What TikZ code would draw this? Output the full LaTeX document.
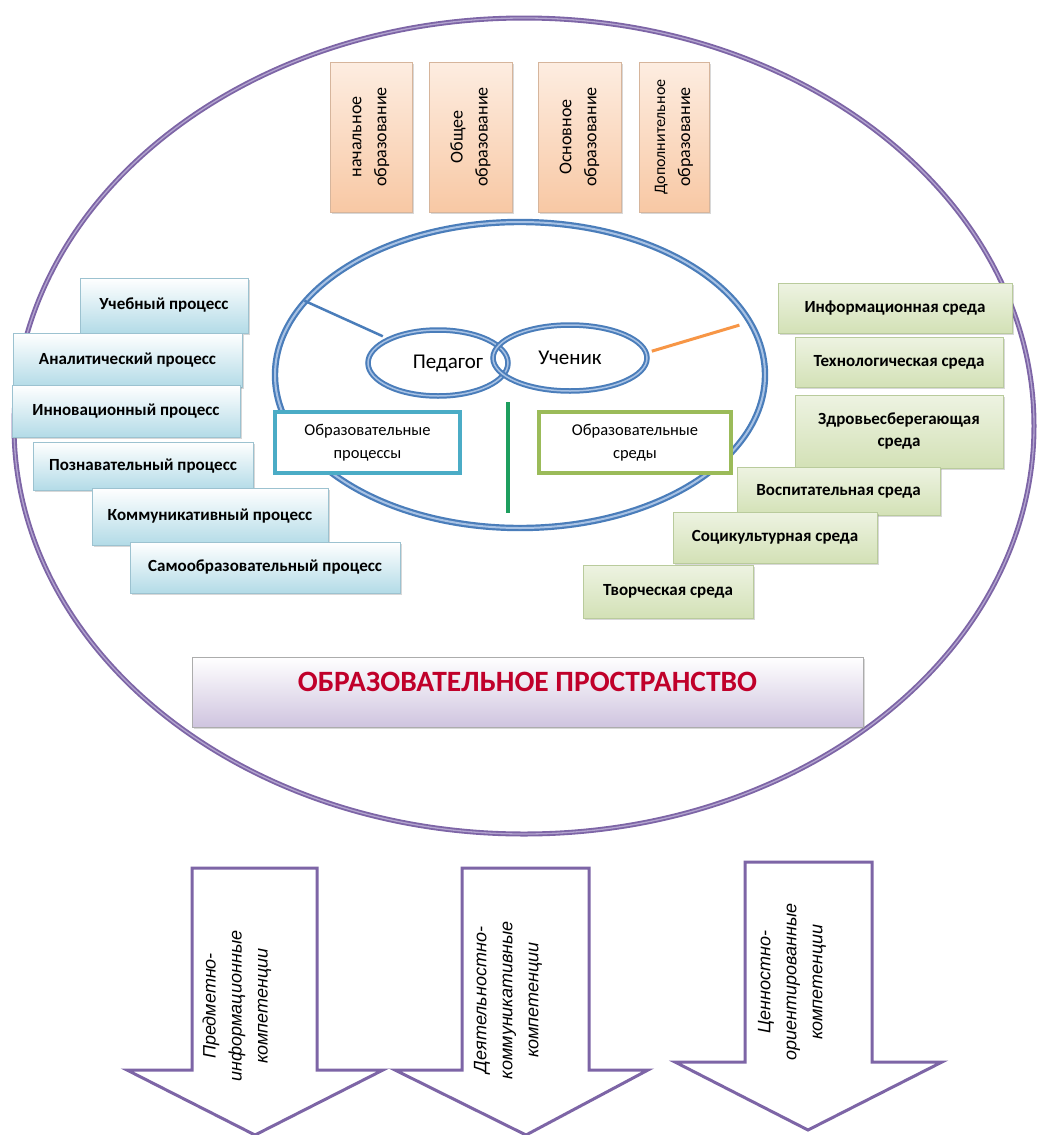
\documentclass[tikz,border=0pt]{standalone}
\usepackage{fontspec}
\setmainfont{Carlito}
\newfontfamily\arrowfont{Liberation Sans}
\usetikzlibrary{positioning}
\usetikzlibrary{shapes.geometric}
\usetikzlibrary{shadows}
\usetikzlibrary{calc}

\definecolor{spacepurple}{HTML}{7D65A6}
\definecolor{spacelight}{HTML}{B3A4CF}
\definecolor{barlilac}{HTML}{CFC4DF}
\definecolor{ringblue}{HTML}{4A7DBA}
\definecolor{ringlight}{HTML}{A8C2E4}
\definecolor{levelpeach}{HTML}{FDEDE1}
\definecolor{levelorange}{HTML}{F8C8A4}
\definecolor{levelborder}{HTML}{D6B59C}
\definecolor{procblue}{HTML}{B3DBE7}
\definecolor{procborder}{HTML}{9CC2D0}
\definecolor{envgreen}{HTML}{D3E1B6}
\definecolor{envborder}{HTML}{B9CB9C}
\definecolor{tealframe}{HTML}{4BACC6}
\definecolor{greenframe}{HTML}{9BBB59}
\definecolor{splitgreen}{HTML}{1E9E5E}
\definecolor{linkorange}{HTML}{F79646}
\definecolor{titlered}{HTML}{C0002A}

\begin{document}
\begin{tikzpicture}[
    x = 1pt, y = -1pt,
    boxshadow/.style = {
        drop shadow = {shadow xshift = 2pt, shadow yshift = -2pt, opacity = 0.3}
    },
    level/.style = {
        rectangle, draw = levelborder, top color = levelpeach, bottom color = levelorange,
        rotate = 90, align = center, inner sep = 1pt, boxshadow,
        font = \fontsize{18}{25}\selectfont
    },
    procbox/.style = {
        rectangle, draw = procborder, top color = white, bottom color = procblue,
        boxshadow, inner sep = 1pt,
        font = \fontsize{17}{20}\selectfont\bfseries
    },
    envbox/.style = {
        rectangle, draw = envborder, top color = white!60!envgreen, bottom color = envgreen,
        boxshadow, inner sep = 1pt, align = center,
        font = \fontsize{17}{22}\selectfont\bfseries
    },
    person/.style = {
        ellipse, draw = ringblue, double = ringlight, double distance = 1.5pt,
        line width = 2pt, inner sep = 0pt,
        font = \fontsize{21}{24}\selectfont
    },
    frame/.style = {
        rectangle, fill = white, line width = 3.5pt, align = center,
        font = \fontsize{16.5}{23}\selectfont
    },
    competence/.style = {
        draw = spacepurple, line width = 3pt, fill = white, line join = miter
    },
    competencetext/.style = {
        rotate = 90, align = center,
        font = \arrowfont\itshape\fontsize{18}{26}\selectfont
    },
  ]
  \useasboundingbox[fill = white] (0,0) rectangle (1036,1135);

  \draw[spacepurple, line width = 5pt] (524,426) ellipse [x radius = 510, y radius = 408];
  \draw[spacelight, line width = 1.3pt] (524,426) ellipse [x radius = 510, y radius = 408];

  \node[level, minimum width = 150pt, minimum height = 82pt] (primary) at (371,137) {начальное\\образование};
  \node[level, minimum width = 150pt, minimum height = 83pt] (general) at (470.5,137) {Общее\\образование};
  \node[level, minimum width = 150pt, minimum height = 83pt] (basic) at (579.5,137) {Основное\\образование};
  \node[level, minimum width = 150pt, minimum height = 70pt] (additional) at (674,137) {\fontsize{16}{22}\selectfont Дополнительное\\образование};

  \node[
      ellipse, draw = ringblue, double = ringlight, double distance = 2pt,
      line width = 2.2pt, minimum width = 490pt, minimum height = 306pt
  ] (ring) at (520,375) {};

  \node[person, minimum width = 140pt, minimum height = 66pt] (ped) at (438,363) {\hspace{20pt}Педагог};
  \node[person, minimum width = 154pt, minimum height = 66pt] (uch) at (570,358) {Ученик};

  \draw[ringblue, line width = 2.5pt, shorten > = 6pt] (ring.161) -- (ped.154);
  \draw[linkorange, line width = 3pt, shorten < = 5pt, shorten > = 12pt] (uch.4) -- (ring.13);

  \coordinate (split) at (508,402);
  \draw[splitgreen, line width = 4pt, shorten > = 16pt] (split) -- (split |- ring.south);

  \node[frame, draw = tealframe, minimum width = 185pt, minimum height = 61pt] (procs) at (367.5,442.5) {Образовательные\\процессы};
  \node[frame, draw = greenframe, minimum width = 192pt, minimum height = 61pt] (envs) at (635,442.5) {Образовательные\\среды};

  \node[procbox, minimum width = 168pt, minimum height = 55pt] (study) at (164,305.5) {Учебный процесс};
  \node[procbox, minimum width = 229pt, minimum height = 54pt] (analysis) at (127.5,360) {Аналитический процесс};
  \node[procbox, minimum width = 228pt, minimum height = 52pt] (innovation) at (126,411) {Инновационный процесс};
  \node[procbox, minimum width = 220pt, minimum height = 48pt] (cognition) at (143,466) {Познавательный процесс};
  \node[procbox, minimum width = 236pt, minimum height = 57pt] (communication) at (210,516.5) {Коммуникативный процесс};
  \node[procbox, minimum width = 270pt, minimum height = 51pt] (selfstudy) at (265,567.5) {Самообразовательный процесс};

  \node[envbox, minimum width = 234pt, minimum height = 50pt] (information) at (895,308) {Информационная среда};
  \node[envbox, minimum width = 208pt, minimum height = 50pt] (technology) at (899,362) {Технологическая среда};
  \node[envbox, minimum width = 208pt, minimum height = 73pt] (health) at (899,431.5) {Здровьесберегающая\\среда};
  \node[envbox, minimum width = 203pt, minimum height = 48pt] (upbringing) at (838.5,491) {Воспитательная среда};
  \node[envbox, minimum width = 204pt, minimum height = 51pt] (culture) at (775,537.5) {Социкультурная среда};
  \node[envbox, minimum width = 170pt, minimum height = 53pt] (creative) at (668,591.5) {Творческая среда};

  \node[
      rectangle, draw = gray!65, top color = white, bottom color = barlilac, boxshadow,
      minimum width = 671pt, inner sep = 5pt, text height = 29pt, text depth = 31pt,
      text = titlered, font = \fontsize{29.5}{32}\selectfont\bfseries
  ] (title) at (527.5,692) {ОБРАЗОВАТЕЛЬНОЕ ПРОСТРАНСТВО};

  \draw[competence] (192,868) -- (317,868) -- (317,1070) -- (383,1070) -- (255,1135)
      -- (127,1070) -- (192,1070) -- cycle;
  \draw[competence] (462,868) -- (589,868) -- (589,1070) -- (648,1070) -- (526,1135)
      -- (395,1070) -- (462,1070) -- cycle;
  \draw[competence] (745,862) -- (872,862) -- (872,1062) -- (942,1062) -- (808,1130)
      -- (675,1062) -- (745,1062) -- cycle;

  \node[competencetext] (subject) at (237,1006) {Предметно-\\информационные\\компетенции};
  \node[competencetext] (activity) at (508,1000) {Деятельностно-\\коммуникативные\\компетенции};
  \node[competencetext] (values) at (792,982) {Ценностно-\\ориентированные\\компетенции};
\end{tikzpicture}
\end{document}
